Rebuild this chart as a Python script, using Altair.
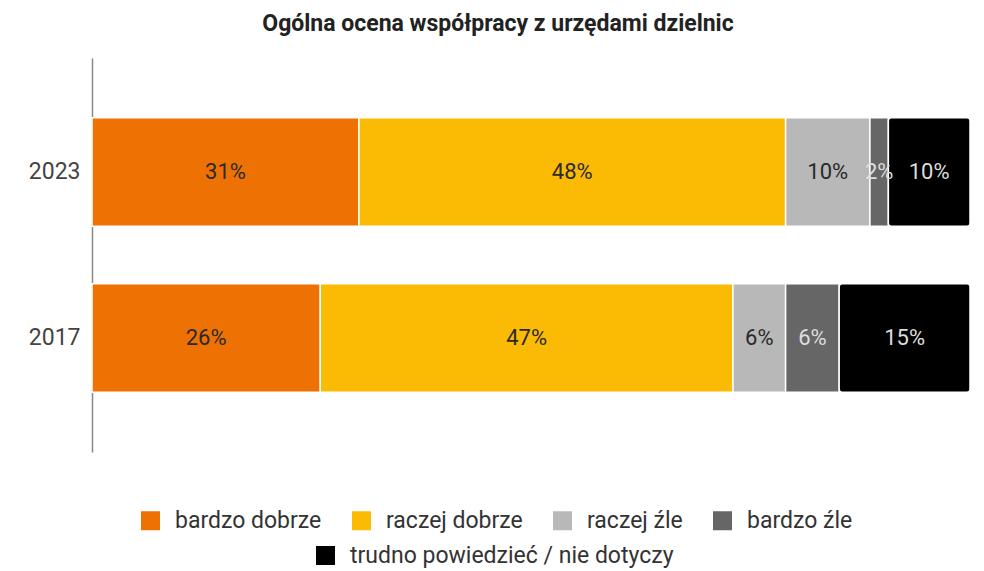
import altair as alt
import pandas as pd

years = ["2023", "2017"]
categories = ["bardzo dobrze", "raczej dobrze", "raczej źle", "bardzo źle",
              "trudno powiedzieć / nie dotyczy"]
# segment widths (percent)
values_2023 = [30.4, 48.6, 9.6, 2.1, 9.3]
values_2017 = [26.0, 47.0, 6.0, 6.1, 14.9]
# printed labels
labels_2023 = ["31%", "48%", "10%", "2%", "10%"]
labels_2017 = ["26%", "47%", "6%", "6%", "15%"]
colors = ["#EE7203", "#FBBA04", "#B8B8B8", "#666666", "#000000"]
dark_cats = ["bardzo źle", "trudno powiedzieć / nie dotyczy"]

rows = []
for y, vals, labs in zip(years, [values_2023, values_2017],
                         [labels_2023, labels_2017]):
    for i, (c, v, l) in enumerate(zip(categories, vals, labs)):
        rows.append({"year": y, "cat": c, "cat2": c, "value": v, "order": i,
                     "label": l})
df = pd.DataFrame(rows)

FONT = "Roboto"

base = alt.Chart(df).transform_joinaggregate(
    total="sum(value)", groupby=["year"]
).transform_window(
    cum="sum(value)", groupby=["year"], sort=[alt.SortField("order")],
    frame=[None, 0]
).transform_calculate(
    end="datum.cum / datum.total",
    start="(datum.cum - datum.value) / datum.total",
    mid="(datum.cum - datum.value / 2) / datum.total",
)

yenc = alt.Y("year:N", sort=years, title=None,
             scale=alt.Scale(paddingInner=0.347, paddingOuter=0.36),
             axis=alt.Axis(ticks=False, labelPadding=12, labelFontSize=23,
                           labelColor="#444444", labelFont=FONT,
                           domainColor="#888888", domainWidth=1.5))
xscale = alt.Scale(domain=[0, 1], nice=False, zero=False)

bars = base.mark_bar(stroke="white", strokeWidth=1.5).encode(
    x=alt.X("start:Q", scale=xscale, axis=None),
    x2="end:Q",
    y=yenc,
    color=alt.Color("cat:N", sort=categories,
                    scale=alt.Scale(domain=categories[:4], range=colors[:4]),
                    legend=alt.Legend(orient="none",
                                      direction="horizontal",
                                      legendX=47, legendY=451, title=None)),
).transform_filter(alt.FieldOneOfPredicate(field="cat", oneOf=categories[:4]))

bars2 = base.mark_bar(stroke="white", strokeWidth=1.5, cornerRadiusEnd=3).encode(
    x=alt.X("start:Q", scale=xscale, axis=None),
    x2="end:Q",
    y=yenc,
    fill=alt.Fill("cat2:N",
                  scale=alt.Scale(domain=categories[4:], range=colors[4:]),
                  legend=alt.Legend(orient="none",
                                    direction="horizontal",
                                    legendX=222, legendY=486, title=None)),
).transform_filter(alt.FieldOneOfPredicate(field="cat", oneOf=categories[4:]))

text = base.mark_text(font=FONT, fontSize=22, fontWeight="normal",
                      baseline="middle", align="center").encode(
    x=alt.X("mid:Q", scale=xscale, axis=None),
    y=yenc,
    text="label:N",
    color=alt.condition(
        alt.FieldOneOfPredicate(field="cat", oneOf=dark_cats),
        alt.value("#DDDDDD"), alt.value("#2A2A2A")),
)

chart = alt.layer(bars, bars2, text).properties(
    width=878, height=394,
    title=alt.TitleParams("Ogólna ocena współpracy z urzędami dzielnic",
                          font=FONT, fontSize=23, fontWeight="bold",
                          color="#222222", anchor="middle", dx=-33, offset=22),
    autosize=alt.AutoSizeParams(type="none"),
    padding={"left": 84, "top": 50, "right": 6, "bottom": 118},
).configure_view(stroke=None).configure_legend(
    labelFont=FONT, labelFontSize=23, labelColor="#333333", labelLimit=500,
    symbolType="square", symbolSize=361, symbolStrokeWidth=0,
    labelOffset=13, columnPadding=28, padding=0,
)

chart.save("out.html", embed_options={"renderer": "svg", "actions": False})
